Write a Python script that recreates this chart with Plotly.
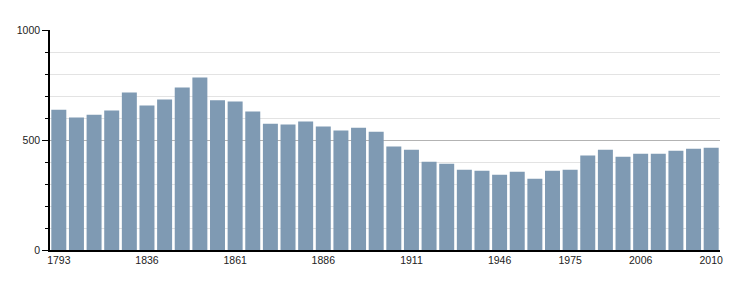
import plotly.graph_objects as go

years = ["1793", "1800", "1806", "1821", "1831", "1836", "1841", "1846", "1851", "1856",
         "1861", "1866", "1872", "1876", "1881", "1886", "1891", "1896", "1901", "1906",
         "1911", "1921", "1926", "1931", "1936", "1946", "1954", "1962", "1968", "1975",
         "1982", "1990", "1999", "2006", "2007", "2008", "2009", "2010"]
population = [638, 602, 615, 634, 716, 657, 684, 739, 784, 681,
              675, 629, 574, 570, 584, 561, 543, 556, 538, 470,
              456, 401, 392, 365, 360, 342, 356, 324, 360, 365,
              429, 456, 424, 438, 438, 451, 460, 465]
tick_years = ["1793", "1836", "1861", "1886", "1911", "1946", "1975", "2006", "2010"]
y_ticks = [0, 500, 1000]

fig = go.Figure(go.Bar(x=years, y=population, marker=dict(color="#7f9ab3", line=dict(width=0)),
                       hoverinfo="x+y"))

fig.update_layout(
    width=750, height=300,
    margin=dict(l=50, r=30, t=30, b=50),
    paper_bgcolor="white", plot_bgcolor="white",
    bargap=0.15,
    showlegend=False,
    font=dict(family="Liberation Sans, Arial, sans-serif", size=10.5, color="#222222"),
)
fig.update_xaxes(
    type="category", tickmode="array", tickvals=tick_years, ticktext=tick_years,
    showline=True, linecolor="black", linewidth=1.5, ticks="", showgrid=False,
    tickfont=dict(size=10.5, color="#222222"), fixedrange=True,
)
fig.update_yaxes(
    range=[0, 1000], tickmode="array", tickvals=y_ticks,
    showline=True, linecolor="black", linewidth=1.5,
    ticks="outside", ticklen=6, tickcolor="black", tickwidth=1,
    showgrid=True, gridcolor="#b3b3b3", gridwidth=1,
    minor=dict(dtick=100, ticks="outside", ticklen=3, tickcolor="black",
               showgrid=True, gridcolor="#e3e3e3", gridwidth=1),
    zeroline=False, tickfont=dict(size=10.5, color="#222222"), fixedrange=True,
)

fig.write_html("out.html")
